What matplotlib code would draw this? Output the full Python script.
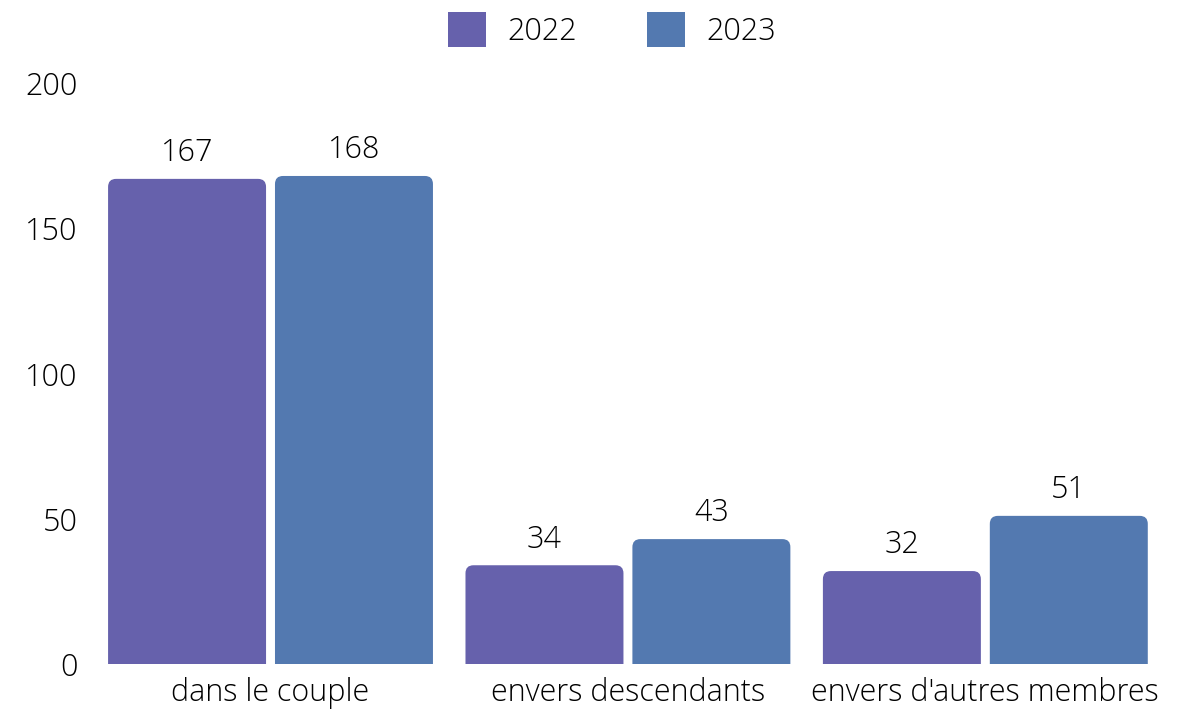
import numpy as np
import matplotlib.pyplot as plt
from matplotlib.patches import FancyBboxPatch, Patch

categories = ["dans le couple", "envers descendants", "envers d'autres membres"]
series = ["2022", "2023"]
v2022 = [167, 34, 32]
v2023 = [168, 43, 51]
colors = ["#6661ac", "#5379b0"]

plt.rcParams['font.family'] = ['Open Sans', 'DejaVu Sans']
fs = 22

fig = plt.figure(figsize=(11.77, 7.15), dpi=100)
ax = fig.add_axes([0.078, 0.0713, 0.911, 0.8126])

x = np.arange(len(categories))
w = 0.442
gap = 0.025
offs = [-(w + gap) / 2, (w + gap) / 2]

# rounded top corners: px per data unit in x and y
px_x = 357.5
px_y = 581 / 200
r_px = 8
for vals, off, c in zip([v2022, v2023], offs, colors):
    for xi, v in zip(x, vals):
        left = xi + off - w / 2
        p = FancyBboxPatch((left, -5), w, v + 5,
                           boxstyle=f"round,pad=0,rounding_size={r_px/px_x}",
                           mutation_aspect=px_x / px_y,
                           fc=c, ec="none")
        ax.add_patch(p)
        ax.annotate(str(v), (xi + off, v), xytext=(0, 7), textcoords="offset points",
                    ha="center", va="bottom", fontsize=fs, fontweight="light")

ax.set_xlim(-0.5, 2.5)
ax.set_ylim(0, 200)
ax.set_yticks([0, 50, 100, 150, 200])
ax.set_xticks(x)
ax.set_xticklabels(categories)
ax.tick_params(axis="both", length=0, labelsize=fs)
ax.tick_params(axis="y", pad=10)
ax.tick_params(axis="x", pad=9)
for lab in ax.get_xticklabels() + ax.get_yticklabels():
    lab.set_fontweight("light")
for s in ax.spines.values():
    s.set_visible(False)

handles = [Patch(fc=c, ec="none") for c in colors]
leg = fig.legend(handles, series, loc="center", bbox_to_anchor=(0.52, 0.958), ncol=2,
                 frameon=False, fontsize=fs, handlelength=1.25, handleheight=1.4,
                 columnspacing=2.3, handletextpad=0.7)
for t in leg.get_texts():
    t.set_fontweight("light")

fig.savefig("out.png", dpi=100)
